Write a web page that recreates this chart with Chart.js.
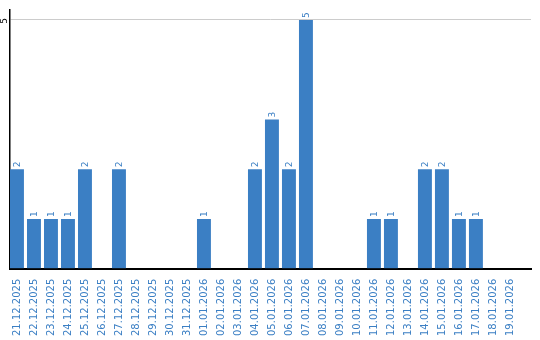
<!DOCTYPE html>
<html>
<head>
<meta charset="utf-8">
<script src="https://cdn.jsdelivr.net/npm/chart.js@4.4.0/dist/chart.umd.min.js"></script>
<style>
  body { margin: 0; background: #fff; }
  canvas { display: block; }
</style>
</head>
<body>
<canvas id="chart" width="540" height="340"></canvas>
<script>
// Daily counts, 21.12.2025 - 19.01.2026
const days = [
  '21.12.2025', '22.12.2025', '23.12.2025', '24.12.2025', '25.12.2025', '26.12.2025',
  '27.12.2025', '28.12.2025', '29.12.2025', '30.12.2025', '31.12.2025', '01.01.2026',
  '02.01.2026', '03.01.2026', '04.01.2026', '05.01.2026', '06.01.2026', '07.01.2026',
  '08.01.2026', '09.01.2026', '10.01.2026', '11.01.2026', '12.01.2026', '13.01.2026',
  '14.01.2026', '15.01.2026', '16.01.2026', '17.01.2026', '18.01.2026', '19.01.2026'
];
const counts = [2, 1, 1, 1, 2, 0, 2, 0, 0, 0, 0, 1, 0, 0, 2, 3, 2, 5, 0, 0, 0, 1, 1, 0, 2, 2, 1, 1, 0, 0];
const yTicks = [5];

const blue = '#3b7fc4';
const font = 'DejaVu Sans, Verdana, sans-serif';

// value labels above bars + rotated y tick, both rotated like the original
const textPlugin = {
  id: 'rotatedText',
  afterDatasetsDraw(chart) {
    const ctx = chart.ctx;
    const meta = chart.getDatasetMeta(0);
    ctx.save();
    ctx.fillStyle = blue;
    ctx.font = '9px ' + font;
    ctx.textAlign = 'left';
    ctx.textBaseline = 'middle';
    meta.data.forEach((bar, i) => {
      if (!counts[i]) return;
      ctx.save();
      ctx.translate(bar.x + 1, bar.y - 2);
      ctx.rotate(-Math.PI / 2);
      ctx.fillText(String(counts[i]), 0, 0);
      ctx.restore();
    });
    const y = chart.scales.y;
    ctx.fillStyle = '#000';
    ctx.textAlign = 'center';
    yTicks.forEach(v => {
      ctx.save();
      ctx.translate(5, y.getPixelForValue(v) + 1);
      ctx.rotate(-Math.PI / 2);
      ctx.fillText(String(v), 0, 0);
      ctx.restore();
    });
    ctx.restore();
  }
};

// linear x so the axis can run a little past the last day, as in the original
new Chart(document.getElementById('chart'), {
  type: 'bar',
  data: {
    datasets: [{
      data: counts.map((v, i) => ({ x: i, y: v })),
      backgroundColor: blue,
      barPercentage: 0.82,
      categoryPercentage: 1
    }]
  },
  options: {
    responsive: false,
    animation: false,
    layout: { padding: { left: 10, top: 10, right: 9, bottom: 2 } },
    plugins: { legend: { display: false }, tooltip: { enabled: false } },
    scales: {
      x: {
        type: 'linear',
        offset: false,
        min: -0.41,
        max: 30.24,
        afterBuildTicks: (axis) => { axis.ticks = days.map((d, i) => ({ value: i })); },
        grid: { display: false },
        border: { display: true, color: '#000', width: 2 },
        ticks: {
          color: blue,
          font: { family: font, size: 10 },
          minRotation: 90,
          maxRotation: 90,
          autoSkip: false,
          padding: 2,
          callback: (v) => days[v]
        }
      },
      y: {
        min: 0,
        max: 5.2,
        afterBuildTicks: (axis) => { axis.ticks = [{ value: 0 }].concat(yTicks.map(v => ({ value: v }))); },
        ticks: { display: false },
        grid: {
          color: (c) => (c.tick && c.tick.value > 0 ? '#cccccc' : 'rgba(0,0,0,0)'),
          drawTicks: false
        },
        border: { display: true, color: '#000', width: 1.5 }
      }
    }
  },
  plugins: [textPlugin]
});
</script>
</body>
</html>
